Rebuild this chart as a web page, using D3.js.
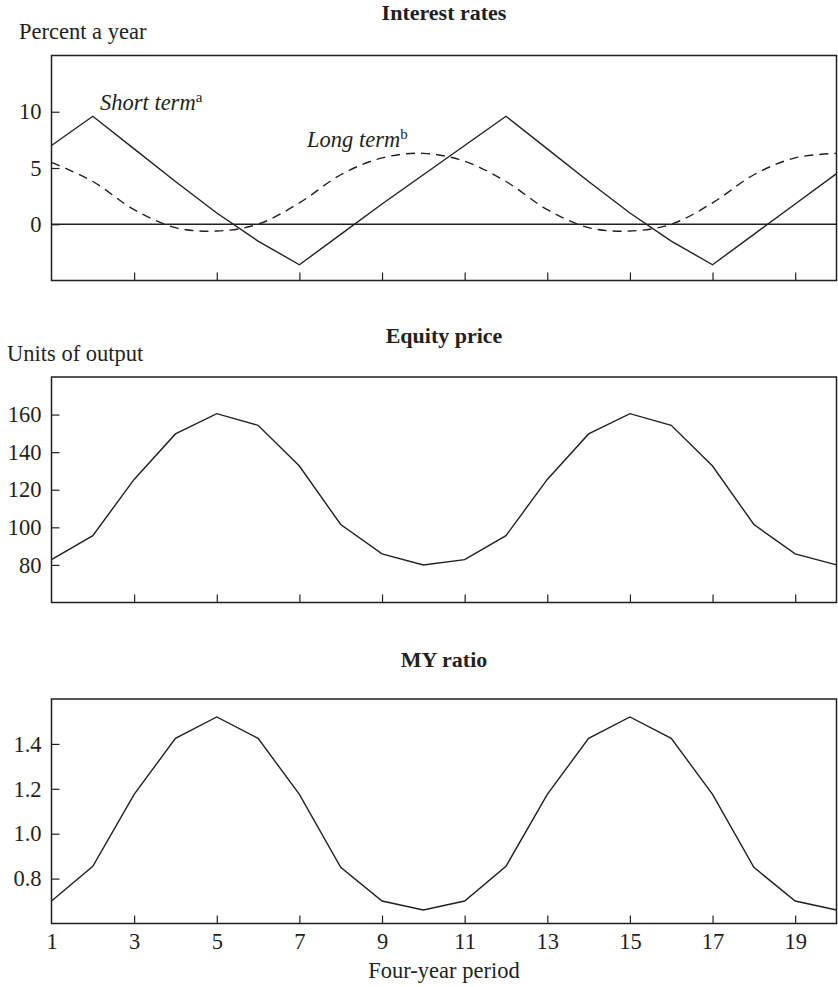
<!DOCTYPE html>
<html><head><meta charset="utf-8">
<script src="https://cdn.jsdelivr.net/npm/d3@7"></script>
<style>
body{margin:0;background:#fff;}
text{font-family:"Liberation Serif","Times New Roman",serif;fill:#231f20;}
</style></head>
<body><svg id="c" width="838" height="987"></svg>
<script>
const periods = d3.range(1, 21);
const shortTerm = [7.0, 9.6, 6.7, 3.8, 1.0, -1.5, -3.6, -0.9, 1.8, 4.4, 7.0, 9.6, 6.7, 3.8, 1.0, -1.5, -3.6, -0.9, 1.8, 4.5];
const longTerm  = [5.5, 3.8, 1.3, -0.3, -0.6, 0.0, 1.9, 4.4, 5.9, 6.3, 5.6, 3.8, 1.3, -0.3, -0.6, 0.0, 1.9, 4.4, 5.9, 6.3];
const equity    = [82.8, 95.6, 125.5, 149.7, 160.5, 154.3, 132.6, 101.5, 85.9, 80.0, 82.8, 95.6, 125.5, 149.7, 160.5, 154.3, 132.6, 101.5, 85.9, 80.0];
const myRatio   = [0.70, 0.855, 1.175, 1.425, 1.52, 1.425, 1.175, 0.85, 0.70, 0.66, 0.70, 0.855, 1.175, 1.425, 1.52, 1.425, 1.175, 0.85, 0.70, 0.66];
const xTicks = [3, 5, 7, 9, 11, 13, 15, 17, 19];
const xTickLabels = [1, 3, 5, 7, 9, 11, 13, 15, 17, 19];
const yTicksRates = [0, 5, 10];
const yTicksEquity = [80, 100, 120, 140, 160];
const yTicksMY = [0.8, 1.0, 1.2, 1.4];

const svg = d3.select("#c");
const ink = "#231f20";
const FS = 22.5;
const x = d3.scaleLinear().domain([1, 20]).range([51.5, 836.5]);

function panel(top, bottom, domain, yTicks, fmt) {
  const y = d3.scaleLinear().domain(domain).range([bottom, top]);
  const g = svg.append("g");
  const ya = g.append("g").attr("transform", `translate(${x.range()[0]},0)`)
    .call(d3.axisLeft(y).tickValues(yTicks).tickFormat(fmt).tickSizeInner(-8).tickSizeOuter(0).tickPadding(10));
  ya.select(".domain").remove();
  ya.selectAll("line").attr("stroke", ink).attr("stroke-width", 1.2);
  ya.selectAll("text").attr("font-size", FS).attr("font-family", "Liberation Serif").attr("fill", ink);
  const xa = g.append("g").attr("transform", `translate(0,${bottom})`)
    .call(d3.axisBottom(x).tickValues(xTicks).tickFormat("").tickSizeInner(-8).tickSizeOuter(0));
  xa.select(".domain").remove();
  xa.selectAll("line").attr("stroke", ink).attr("stroke-width", 1.2);
  g.append("rect").attr("x", x.range()[0]).attr("y", top)
    .attr("width", x.range()[1] - x.range()[0]).attr("height", bottom - top)
    .attr("fill", "none").attr("stroke", ink).attr("stroke-width", 1.5);
  return {g, y};
}

function title(txt, yb) {
  svg.append("text").attr("x", 444).attr("y", yb).attr("text-anchor", "middle")
    .attr("font-weight", "bold").attr("font-size", 22).text(txt);
}
function unit(txt, xx, yb) {
  svg.append("text").attr("x", xx).attr("y", yb).attr("font-size", FS).text(txt);
}

// Panel 1: Interest rates
title("Interest rates", 20);
unit("Percent a year", 19, 39);
const p1 = panel(55.5, 280.5, [-5, 15], yTicksRates, d3.format("d"));
p1.g.append("line").attr("x1", x(1)).attr("x2", x(20)).attr("y1", p1.y(0)).attr("y2", p1.y(0))
  .attr("stroke", ink).attr("stroke-width", 1.3);
p1.g.append("path").datum(longTerm)
  .attr("d", d3.line().x((d, i) => x(periods[i])).y(d => p1.y(d)).curve(d3.curveCatmullRom))
  .attr("fill", "none").attr("stroke", ink).attr("stroke-width", 1.4).attr("stroke-dasharray", "9,6");
p1.g.append("path").datum(shortTerm)
  .attr("d", d3.line().x((d, i) => x(periods[i])).y(d => p1.y(d)))
  .attr("fill", "none").attr("stroke", ink).attr("stroke-width", 1.4);
const st = svg.append("text").attr("x", 100).attr("y", 110).attr("font-size", FS).attr("font-style", "italic");
st.append("tspan").text("Short term");
st.append("tspan").attr("font-style", "normal").attr("font-size", 15).attr("dy", -8).text("a");
const lt = svg.append("text").attr("x", 307).attr("y", 147).attr("font-size", FS).attr("font-style", "italic");
lt.append("tspan").text("Long term");
lt.append("tspan").attr("font-style", "normal").attr("font-size", 15).attr("dy", -8).text("b");

// Panel 2: Equity price
title("Equity price", 343);
unit("Units of output", 7, 361);
const p2 = panel(377, 602.5, [60, 180], yTicksEquity, d3.format("d"));
p2.g.append("path").datum(equity)
  .attr("d", d3.line().x((d, i) => x(periods[i])).y(d => p2.y(d)))
  .attr("fill", "none").attr("stroke", ink).attr("stroke-width", 1.4);

// Panel 3: MY ratio
title("MY ratio", 667);
const p3 = panel(699, 923.5, [0.6, 1.6], yTicksMY, d3.format(".1f"));
p3.g.append("path").datum(myRatio)
  .attr("d", d3.line().x((d, i) => x(periods[i])).y(d => p3.y(d)))
  .attr("fill", "none").attr("stroke", ink).attr("stroke-width", 1.4);
const xl = svg.append("g").attr("transform", "translate(0,923.5)")
  .call(d3.axisBottom(x).tickValues(xTickLabels).tickFormat(d3.format("d")).tickSize(0).tickPadding(10));
xl.select(".domain").remove();
xl.selectAll("text").attr("font-size", FS).attr("font-family", "Liberation Serif").attr("fill", ink);
svg.append("text").attr("x", 444).attr("y", 978).attr("text-anchor", "middle").attr("font-size", FS).text("Four-year period");
</script></body></html>
